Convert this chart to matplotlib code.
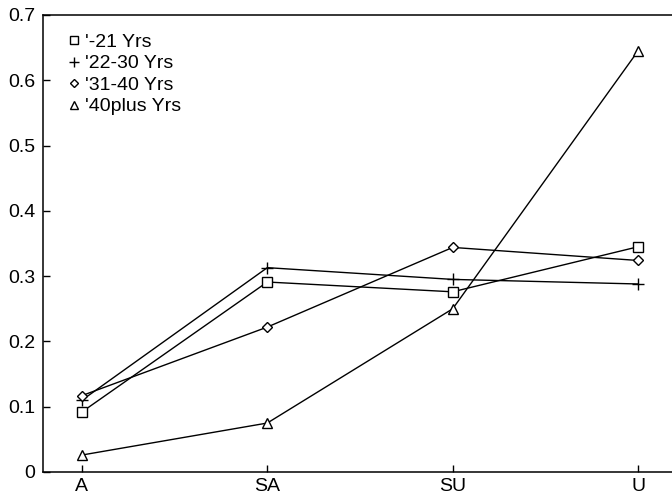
import matplotlib
matplotlib.use("Agg")
import matplotlib.pyplot as plt

plt.rcParams['font.family'] = ['Liberation Sans', 'DejaVu Sans']

categories = ['A', 'SA', 'SU', 'U']
series_names = ["'-21 Yrs", "'22-30 Yrs", "'31-40 Yrs", "'40plus Yrs"]
upto21 = [0.092, 0.291, 0.276, 0.345]
yrs22_30 = [0.110, 0.313, 0.295, 0.288]
yrs31_40 = [0.117, 0.222, 0.344, 0.324]
yrs40plus = [0.026, 0.075, 0.250, 0.645]
y_ticks = [0, 0.1, 0.2, 0.3, 0.4, 0.5, 0.6, 0.7]
y_tick_labels = ['0', '0.1', '0.2', '0.3', '0.4', '0.5', '0.6', '0.7']

fig = plt.figure(figsize=(6.72, 4.99), dpi=100)
ax = fig.add_axes([43 / 672, 27 / 499, 1 - 43 / 672, 457 / 499])

x = list(range(len(categories)))
markers = ['s', '+', 'D', '^']
sizes = [7, 9, 5, 7]
for vals, name, m, ms in zip([upto21, yrs22_30, yrs31_40, yrs40plus],
                             series_names, markers, sizes):
    ax.plot(x, vals, color='black', lw=1.0, marker=m, ms=ms,
            mfc='white', mec='black', mew=1.0, label=name)

ax.set_xlim(-0.21, 3.183)
ax.set_ylim(0, 0.7)
ax.set_xticks(x)
ax.set_xticklabels(categories)
ax.set_yticks(y_ticks)
ax.set_yticklabels(y_tick_labels)
ax.tick_params(direction='in', length=5, width=1, labelsize=14)
ax.tick_params(axis='y', pad=5.5)
ax.tick_params(axis='x', pad=4)
ax.spines['right'].set_visible(False)
for s in ['left', 'bottom', 'top']:
    ax.spines[s].set_linewidth(1.1)

# legend shows only the markers, no lines
handles = [plt.Line2D([], [], ls='none', marker=m, ms=ms * 0.8, mfc='white',
                      mec='black', mew=1.0, color='black')
           for m, ms in zip(markers, sizes)]
ax.legend(handles, series_names, loc='upper left', frameon=False,
          fontsize=14, handlelength=0.5, handletextpad=0.3,
          borderaxespad=0, borderpad=0, labelspacing=0.2,
          bbox_to_anchor=(0.042, 0.96))

fig.savefig('out.png', dpi=100)
